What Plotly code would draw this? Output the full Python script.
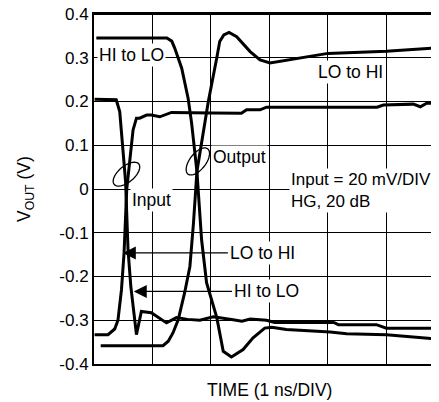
import numpy as np
import plotly.graph_objects as go

# time axis in ns (1 ns/DIV), voltages in V
out_hi_lo_t = [0.04, 1.245, 1.33, 1.38, 1.50, 1.61, 1.67, 1.76, 1.84, 1.925, 2.10,
               2.21, 2.35, 2.55, 2.72, 2.92, 3.04, 3.29, 4.04, 4.32, 5.0, 5.9]
out_hi_lo_v = [0.345, 0.345, 0.338, 0.322, 0.276, 0.207, 0.15, 0.04, -0.116, -0.214, -0.294,
               -0.371, -0.384, -0.367, -0.340, -0.318, -0.316, -0.321, -0.327, -0.331, -0.333, -0.343]

out_lo_hi_t = [0.115, 1.18, 1.27, 1.35, 1.44, 1.55, 1.64, 1.70, 1.76, 1.87, 1.955, 2.10,
               2.15, 2.22, 2.31, 2.44, 2.67, 2.84, 3.01, 4.0, 5.0, 5.9]
out_lo_hi_v = [-0.358, -0.358, -0.348, -0.329, -0.299, -0.237, -0.177, -0.08, 0.04, 0.135, 0.2, 0.30,
               0.337, 0.352, 0.358, 0.348, 0.314, 0.295, 0.288, 0.31, 0.315, 0.323]

in_hi_lo_t = [0.01, 0.38, 0.44, 0.47, 0.54, 0.582, 0.63, 0.726, 0.81, 0.98, 1.24, 1.41, 1.60,
              1.81, 2.04, 2.38, 2.53, 2.67, 2.95, 3.09, 4.1, 4.18, 4.83, 5.0, 5.9]
in_hi_lo_v = [0.205, 0.204, 0.177, 0.13, 0.017, -0.139, -0.223, -0.333, -0.28, -0.283, -0.306, -0.294, -0.298,
              -0.300, -0.292, -0.299, -0.302, -0.297, -0.300, -0.305, -0.305, -0.310, -0.310, -0.318, -0.318]

in_lo_hi_t = [0.01, 0.24, 0.354, 0.41, 0.47, 0.514, 0.56, 0.668, 0.726, 0.78, 0.90, 0.98, 1.125,
              1.325, 2.03, 2.52, 2.61, 2.84, 2.95, 4.84, 4.95, 5.46, 5.58, 5.69, 5.9]
in_lo_hi_v = [-0.333, -0.333, -0.32, -0.30, -0.23, -0.146, 0.0, 0.135, 0.162, 0.162, 0.169, 0.169, 0.165,
              0.175, 0.174, 0.173, 0.181, 0.181, 0.187, 0.187, 0.192, 0.194, 0.188, 0.196, 0.196]

y_ticks = [0.4, 0.3, 0.2, 0.1, 0, -0.1, -0.2, -0.3, -0.4]
y_tick_labels = ["0.4", "0.3", "0.2", "0.1", "0", "-0.1", "-0.2", "-0.3", "-0.4"]

FONT = "Liberation Sans, Arial, sans-serif"
# page body has an 8px margin, so the figure is sized to fit inside it
W, H = 431, 394
M_L, M_R, M_T, M_B = 86, 0, 6, 38
X_RANGE = [0, 5.9]
Y_RANGE = [-0.4, 0.4]
PX_PER_T = (W - M_L - M_R) / (X_RANGE[1] - X_RANGE[0])
PX_PER_V = (H - M_T - M_B) / (Y_RANGE[1] - Y_RANGE[0])


def ellipse_path(tc, vc, a_px, b_px, angle_deg, n=48):
    """Tilted ellipse, sized in pixels, returned as an SVG path in data units."""
    th = np.radians(angle_deg)
    s = np.linspace(0, 2 * np.pi, n)
    xp = a_px * np.cos(s) * np.cos(th) - b_px * np.sin(s) * np.sin(th)
    yp = a_px * np.cos(s) * np.sin(th) + b_px * np.sin(s) * np.cos(th)
    t = tc + xp / PX_PER_T
    v = vc + yp / PX_PER_V
    pts = [f"{a:.4f},{b:.4f}" for a, b in zip(t, v)]
    return "M " + " L ".join(pts) + " Z"


fig = go.Figure()

for t, v in [(out_hi_lo_t, out_hi_lo_v), (out_lo_hi_t, out_lo_hi_v),
             (in_hi_lo_t, in_hi_lo_v), (in_lo_hi_t, in_lo_hi_v)]:
    fig.add_trace(
        go.Scatter(x=t, y=v, mode="lines", line=dict(color="black", width=3),
                   showlegend=False, hoverinfo="skip", cliponaxis=False)
    )

for tc, vc, ang in [(0.555, 0.034, 40), (1.776, 0.063, 52)]:
    fig.add_shape(type="path", xref="x", yref="y", path=ellipse_path(tc, vc, 16, 8, ang),
                  line=dict(color="black", width=1.3))

# top border of the graticule
fig.add_shape(type="line", xref="paper", yref="paper", x0=0, x1=1, y0=1, y1=1,
              line=dict(color="black", width=2))

label = dict(font=dict(family=FONT, size=17.5, color="black"), bgcolor="white",
             showarrow=False, borderpad=1)
fig.add_annotation(x=0.637, y=0.306, text="HI to LO", **label)
fig.add_annotation(x=4.39, y=0.268, text="LO to HI", **label)
fig.add_annotation(x=0.99, y=-0.026, text="Input", **label)
fig.add_annotation(x=2.49, y=0.074, text="Output", **label)
fig.add_annotation(x=3.34, y=-0.004, text="Input = 20 mV/DIV<br>HG, 20 dB", xanchor="left",
                   align="left", font=dict(family=FONT, size=17, color="black"),
                   bgcolor="white", showarrow=False, borderpad=1)

# arrow callouts pointing at the input edges
arrow = dict(font=dict(family=FONT, size=17.5, color="black"), bgcolor="white",
             showarrow=True, arrowhead=2, arrowsize=2, arrowwidth=1.3, arrowcolor="black",
             axref="x", ayref="y", xanchor="left")
fig.add_annotation(x=0.493, y=-0.146, ax=2.29, ay=-0.146, text="LO to HI", **arrow)
fig.add_annotation(x=0.68, y=-0.234, ax=2.36, ay=-0.234, text="HI to LO", **arrow)

# axis titles
fig.add_annotation(x=3.0, y=0, xref="x", yref="paper", yshift=-26, yanchor="middle",
                   text="TIME (1 ns/DIV)", showarrow=False,
                   font=dict(family=FONT, size=17.5, color="black"))
fig.add_annotation(x=0, y=0.5, xref="paper", yref="paper", xshift=-69, xanchor="center",
                   yanchor="middle", textangle=-90,
                   text="V<sub>OUT</sub> (V)", showarrow=False,
                   font=dict(family=FONT, size=17.5, color="black"))

fig.update_layout(
    width=W,
    height=H,
    margin=dict(l=M_L, r=M_R, t=M_T, b=M_B, autoexpand=False),
    plot_bgcolor="white",
    paper_bgcolor="white",
    font=dict(family=FONT, size=17, color="black"),
    xaxis=dict(range=X_RANGE, dtick=1, tick0=0, showticklabels=False, ticks="",
               showgrid=True, gridcolor="black", gridwidth=1, zeroline=False,
               showline=True, linecolor="black", linewidth=2, mirror=True,
               automargin=False),
    yaxis=dict(range=Y_RANGE, tickvals=y_ticks, ticktext=y_tick_labels, ticks="",
               showgrid=True, gridcolor="black", gridwidth=1, zeroline=False,
               showline=True, linecolor="black", linewidth=2,
               ticklabeloverflow="allow", automargin=False),
)

fig.write_html("out.html")
